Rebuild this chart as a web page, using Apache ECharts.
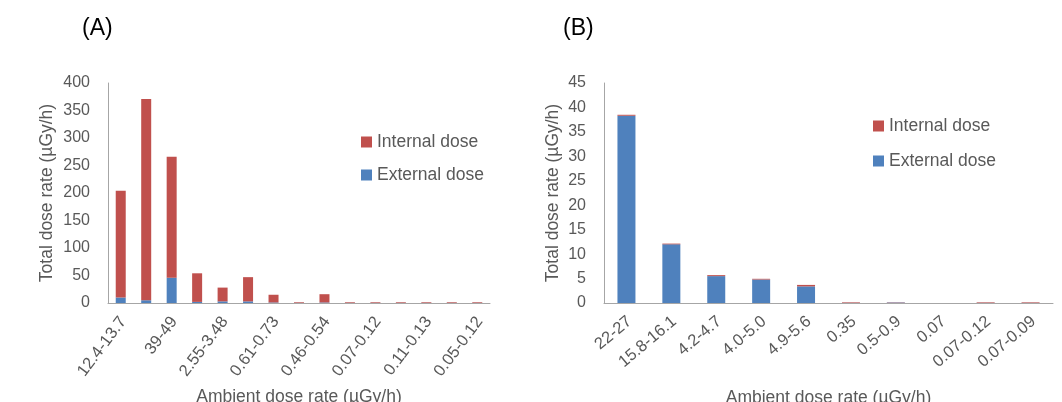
<!DOCTYPE html>
<html>
<head>
<meta charset="utf-8">
<script src="https://cdn.jsdelivr.net/npm/echarts@6/dist/echarts.min.js"></script>
<style>
html,body{margin:0;padding:0;background:#fff;}
#c{width:1062px;height:402px;}
</style>
</head>
<body>
<div id="c"></div>
<script>
// Panel A
const categoriesA = ['12.4-13.7','', '39-49','', '2.55-3.48','', '0.61-0.73','', '0.46-0.54','', '0.07-0.12','', '0.11-0.13','', '0.05-0.12'];
const externalA = [10, 5, 46, 2, 3, 3, 1, 0.3, 1, 0.3, 0.3, 0.3, 0.3, 0.3, 0.3];
const internalA = [194, 366, 220, 52, 25, 44, 14, 1.2, 15, 1.2, 1.2, 1.2, 1.2, 1.2, 1.2];
const yTicksA = {min: 0, max: 400, interval: 50};
// Panel B
const categoriesB = ['22-27','15.8-16.1','4.2-4.7','4.0-5.0','4.9-5.6','0.35','0.5-0.9','0.07','0.07-0.12','0.07-0.09'];
const externalB = [38.3, 12.0, 5.5, 4.8, 3.4, 0.03, 0.1, 0, 0.03, 0.03];
const internalB = [0.2, 0.15, 0.2, 0.15, 0.3, 0.12, 0.06, 0, 0.12, 0.12];
const yTicksB = {min: 0, max: 45, interval: 5};

const RED = '#C0504D', BLUE = '#4F81BD', TXT = '#595959', AX = '#A6A6A6';
const FONT = 'Liberation Sans';

function xAxis(idx, cats, rot, gap) {
  return {
    type: 'category', gridIndex: idx, data: cats,
    axisLine: {lineStyle: {color: AX, width: 1}},
    axisTick: {show: false},
    axisLabel: {interval: 0, rotate: rot, color: TXT, fontFamily: FONT, fontSize: 16.5, margin: 19, padding: [0, -4, 0, 0]},
    name: 'Ambient dose rate (\u00b5Gy/h)', nameLocation: 'middle', nameGap: gap,
    nameTextStyle: {color: TXT, fontFamily: FONT, fontSize: 17.5}
  };
}
function yAxis(idx, t, gap) {
  return {
    type: 'value', gridIndex: idx, min: t.min, max: t.max, interval: t.interval,
    axisLine: {show: true, lineStyle: {color: AX, width: 1}},
    axisTick: {show: false},
    splitLine: {show: false},
    axisLabel: {color: TXT, fontFamily: FONT, fontSize: 16, margin: 18},
    name: 'Total dose rate (\u00b5Gy/h)', nameLocation: 'middle', nameGap: gap, nameRotate: 90,
    nameTextStyle: {color: TXT, fontFamily: FONT, fontSize: 17.5}
  };
}
const legendText = {color: TXT, fontFamily: FONT, fontSize: 17.5};

const chart = echarts.init(document.getElementById('c'), null, {renderer: 'canvas'});
chart.setOption({
  animation: false,
  backgroundColor: '#fff',
  title: [
    {text: '(A)', left: 82, top: 17, padding: 0, textStyle: {fontFamily: FONT, fontSize: 23, fontWeight: 'normal', color: '#000'}},
    {text: '(B)', left: 563, top: 17, padding: 0, textStyle: {fontFamily: FONT, fontSize: 23, fontWeight: 'normal', color: '#000'}}
  ],
  legend: [
    {left: 361, top: 133, padding: 0, orient: 'vertical', itemWidth: 11, itemHeight: 11, itemGap: 15, icon: 'rect',
     data: ['Internal dose', 'External dose'], textStyle: legendText},
    {left: 873, top: 117, padding: 0, orient: 'vertical', itemWidth: 11, itemHeight: 11, itemGap: 17, icon: 'rect',
     data: ['Internal dose', 'External dose'], textStyle: legendText}
  ],
  grid: [
    {left: 108, right: 572, top: 83, bottom: 99, containLabel: false, outerBoundsMode: 'none'},
    {left: 604, right: 9, top: 83, bottom: 99, containLabel: false, outerBoundsMode: 'none'}
  ],
  xAxis: [xAxis(0, categoriesA, 53, 85), xAxis(1, categoriesB, 40, 86)],
  yAxis: [yAxis(0, yTicksA, 52), yAxis(1, yTicksB, 42)],
  series: [
    {name: 'External dose', type: 'bar', stack: 'a', xAxisIndex: 0, yAxisIndex: 0, data: externalA, barWidth: 10, itemStyle: {color: BLUE}},
    {name: 'Internal dose', type: 'bar', stack: 'a', xAxisIndex: 0, yAxisIndex: 0, data: internalA, barWidth: 10, itemStyle: {color: RED}},
    {name: 'External dose', type: 'bar', stack: 'b', xAxisIndex: 1, yAxisIndex: 1, data: externalB, barWidth: 18, itemStyle: {color: BLUE}},
    {name: 'Internal dose', type: 'bar', stack: 'b', xAxisIndex: 1, yAxisIndex: 1, data: internalB, barWidth: 18, itemStyle: {color: RED}}
  ]
});
</script>
</body>
</html>
